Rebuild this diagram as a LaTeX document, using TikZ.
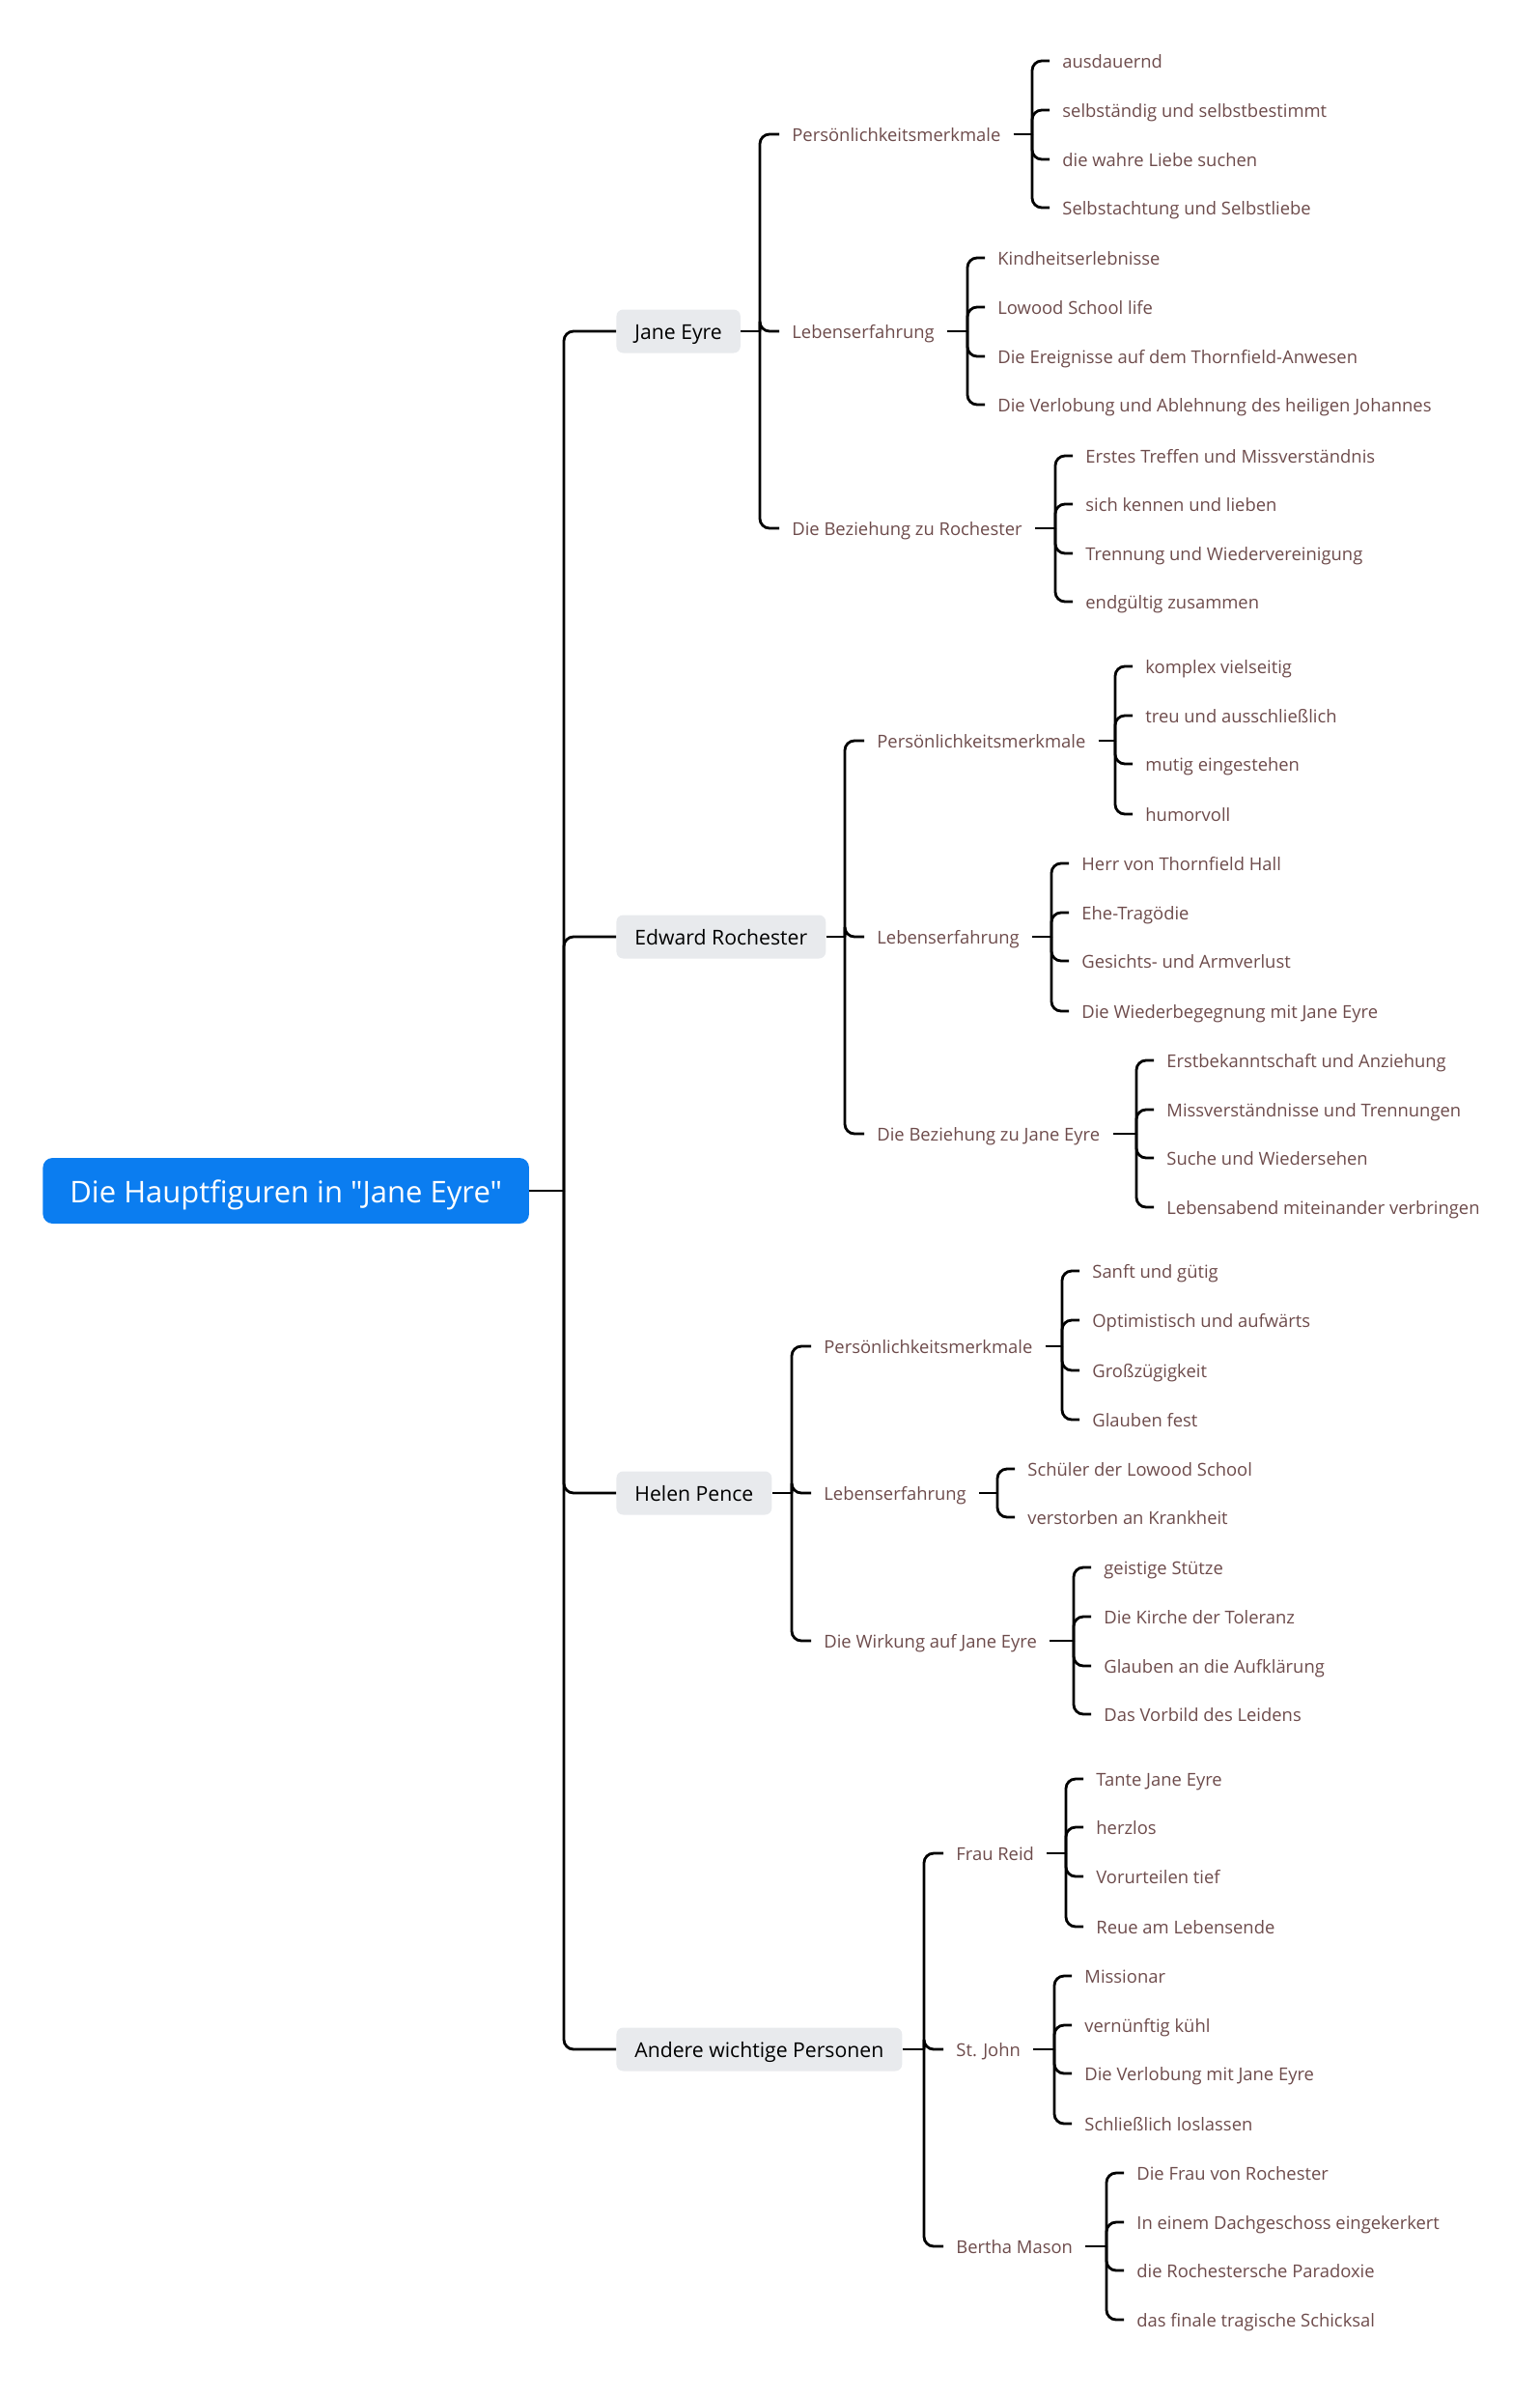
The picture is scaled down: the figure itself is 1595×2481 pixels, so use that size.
\documentclass[tikz,border=0pt]{standalone}
\usepackage{fontspec}
\setmainfont{Open Sans}[Ligatures=TeXOff]
\usepackage{xcolor}
\usepackage{tikz}
\usetikzlibrary{positioning,calc}

\definecolor{rootblue}{HTML}{0B7DF0}
\definecolor{topicgrey}{HTML}{E8EAED}
\definecolor{leafbrown}{HTML}{6D4B4B}

\tikzset{
  rootbox/.style={fill=rootblue,text=white,rounded corners=5pt,anchor=west,
    inner xsep=14pt,minimum height=34pt,text height=13pt,text depth=1pt,
    font=\fontsize{15.5pt}{18pt}\selectfont},
  topic/.style={fill=topicgrey,text=black,rounded corners=3.5pt,anchor=west,
    inner xsep=9.5pt,minimum height=22.5pt,text height=8.5pt,text depth=0.5pt,
    font=\fontsize{10.6pt}{13pt}\selectfont},
  sub/.style={text=leafbrown,anchor=west,inner xsep=6.5pt,inner ysep=2pt,
    text height=7.9pt,text depth=0.9pt,font=\fontsize{9.2pt}{11pt}\selectfont},
  leaf/.style={sub},
  link/.style={line width=1.4pt,rounded corners=5pt}
}

\begin{document}
\begin{tikzpicture}[x=0.5pt,y=-0.5pt]
  \useasboundingbox (0,0) rectangle (1595,2481);

  % root and trunk
  \node[rootbox] (root) at (44,1233) {Die Hauptfiguren in "Jane Eyre"};
  \coordinate (trunk) at (584,1233);
  \draw[link] (root.east) -- (trunk);

  % level 1
  \node[topic] (je) at (638,343)  {Jane Eyre};
  \node[topic] (er) at (638,970)  {Edward Rochester};
  \node[topic] (hp) at (638,1546) {Helen Pence};
  \node[topic] (aw) at (638,2122) {Andere wichtige Personen};
  \draw[link] (trunk) |- (je.west);
  \draw[link] (trunk) |- (er.west);
  \draw[link] (trunk) |- (hp.west);
  \draw[link] (trunk) |- (aw.west);

  % ---------- Jane Eyre ----------
  \coordinate (jeb) at (787,343);
  \node[sub] (jeP) at (807,139) {Persönlichkeitsmerkmale};
  \node[sub] (jeL) at (807,343) {Lebenserfahrung};
  \node[sub] (jeB) at (807,547) {Die Beziehung zu Rochester};
  \draw[link] (je.east) -- (jeb);
  \draw[link] (jeb) |- (jeP.west);
  \draw[link] (jeb) |- (jeL.west);
  \draw[link] (jeb) |- (jeB.west);

  \coordinate (jePb) at (1069,139);
  \node[leaf] (jeP1) at (1087,63)  {ausdauernd};
  \node[leaf] (jeP2) at (1087,114) {selbständig und selbstbestimmt};
  \node[leaf] (jeP3) at (1087,165) {die wahre Liebe suchen};
  \node[leaf] (jeP4) at (1087,215) {Selbstachtung und Selbstliebe};
  \draw[link] (jeP.east) -- (jePb);
  \draw[link] (jePb) |- (jeP1.west);
  \draw[link] (jePb) |- (jeP2.west);
  \draw[link] (jePb) |- (jeP3.west);
  \draw[link] (jePb) |- (jeP4.west);

  \coordinate (jeLb) at (1002,343);
  \node[leaf] (jeL1) at (1020,267) {Kindheitserlebnisse};
  \node[leaf] (jeL2) at (1020,318) {Lowood School life};
  \node[leaf] (jeL3) at (1020,369) {Die Ereignisse auf dem Thornfield-Anwesen};
  \node[leaf] (jeL4) at (1020,419) {Die Verlobung und Ablehnung des heiligen Johannes};
  \draw[link] (jeL.east) -- (jeLb);
  \draw[link] (jeLb) |- (jeL1.west);
  \draw[link] (jeLb) |- (jeL2.west);
  \draw[link] (jeLb) |- (jeL3.west);
  \draw[link] (jeLb) |- (jeL4.west);

  \coordinate (jeBb) at (1093,547);
  \node[leaf] (jeB1) at (1111,472) {Erstes Treffen und Missverständnis};
  \node[leaf] (jeB2) at (1111,522) {sich kennen und lieben};
  \node[leaf] (jeB3) at (1111,573) {Trennung und Wiedervereinigung};
  \node[leaf] (jeB4) at (1111,623) {endgültig zusammen};
  \draw[link] (jeB.east) -- (jeBb);
  \draw[link] (jeBb) |- (jeB1.west);
  \draw[link] (jeBb) |- (jeB2.west);
  \draw[link] (jeBb) |- (jeB3.west);
  \draw[link] (jeBb) |- (jeB4.west);

  % ---------- Edward Rochester ----------
  \coordinate (erb) at (875,970);
  \node[sub] (erP) at (895,767)  {Persönlichkeitsmerkmale};
  \node[sub] (erL) at (895,970)  {Lebenserfahrung};
  \node[sub] (erB) at (895,1174) {Die Beziehung zu Jane Eyre};
  \draw[link] (er.east) -- (erb);
  \draw[link] (erb) |- (erP.west);
  \draw[link] (erb) |- (erL.west);
  \draw[link] (erb) |- (erB.west);

  \coordinate (erPb) at (1155,767);
  \node[leaf] (erP1) at (1173,690) {komplex vielseitig};
  \node[leaf] (erP2) at (1173,741) {treu und ausschließlich};
  \node[leaf] (erP3) at (1173,791) {mutig eingestehen};
  \node[leaf] (erP4) at (1173,843) {humorvoll};
  \draw[link] (erP.east) -- (erPb);
  \draw[link] (erPb) |- (erP1.west);
  \draw[link] (erPb) |- (erP2.west);
  \draw[link] (erPb) |- (erP3.west);
  \draw[link] (erPb) |- (erP4.west);

  \coordinate (erLb) at (1089,970);
  \node[leaf] (erL1) at (1107,894)  {Herr von Thornfield Hall};
  \node[leaf] (erL2) at (1107,945)  {Ehe-Tragödie};
  \node[leaf] (erL3) at (1107,995)  {Gesichts- und Armverlust};
  \node[leaf] (erL4) at (1107,1047) {Die Wiederbegegnung mit Jane Eyre};
  \draw[link] (erL.east) -- (erLb);
  \draw[link] (erLb) |- (erL1.west);
  \draw[link] (erLb) |- (erL2.west);
  \draw[link] (erLb) |- (erL3.west);
  \draw[link] (erLb) |- (erL4.west);

  \coordinate (erBb) at (1177,1174);
  \node[leaf] (erB1) at (1195,1098) {Erstbekanntschaft und Anziehung};
  \node[leaf] (erB2) at (1195,1149) {Missverständnisse und Trennungen};
  \node[leaf] (erB3) at (1195,1199) {Suche und Wiedersehen};
  \node[leaf] (erB4) at (1195,1250) {Lebensabend miteinander verbringen};
  \draw[link] (erB.east) -- (erBb);
  \draw[link] (erBb) |- (erB1.west);
  \draw[link] (erBb) |- (erB2.west);
  \draw[link] (erBb) |- (erB3.west);
  \draw[link] (erBb) |- (erB4.west);

  % ---------- Helen Pence ----------
  \coordinate (hpb) at (820,1546);
  \node[sub] (hpP) at (840,1394) {Persönlichkeitsmerkmale};
  \node[sub] (hpL) at (840,1546) {Lebenserfahrung};
  \node[sub] (hpW) at (840,1699) {Die Wirkung auf Jane Eyre};
  \draw[link] (hp.east) -- (hpb);
  \draw[link] (hpb) |- (hpP.west);
  \draw[link] (hpb) |- (hpL.west);
  \draw[link] (hpb) |- (hpW.west);

  \coordinate (hpPb) at (1100,1394);
  \node[leaf] (hpP1) at (1118,1316) {Sanft und gütig};
  \node[leaf] (hpP2) at (1118,1367) {Optimistisch und aufwärts};
  \node[leaf] (hpP3) at (1118,1419) {Großzügigkeit};
  \node[leaf] (hpP4) at (1118,1470) {Glauben fest};
  \draw[link] (hpP.east) -- (hpPb);
  \draw[link] (hpPb) |- (hpP1.west);
  \draw[link] (hpPb) |- (hpP2.west);
  \draw[link] (hpPb) |- (hpP3.west);
  \draw[link] (hpPb) |- (hpP4.west);

  \coordinate (hpLb) at (1033,1546);
  \node[leaf] (hpL1) at (1051,1521) {Schüler der Lowood School};
  \node[leaf] (hpL2) at (1051,1571) {verstorben an Krankheit};
  \draw[link] (hpL.east) -- (hpLb);
  \draw[link] (hpLb) |- (hpL1.west);
  \draw[link] (hpLb) |- (hpL2.west);

  \coordinate (hpWb) at (1112,1699);
  \node[leaf] (hpW1) at (1130,1623) {geistige Stütze};
  \node[leaf] (hpW2) at (1130,1674) {Die Kirche der Toleranz};
  \node[leaf] (hpW3) at (1130,1725) {Glauben an die Aufklärung};
  \node[leaf] (hpW4) at (1130,1775) {Das Vorbild des Leidens};
  \draw[link] (hpW.east) -- (hpWb);
  \draw[link] (hpWb) |- (hpW1.west);
  \draw[link] (hpWb) |- (hpW2.west);
  \draw[link] (hpWb) |- (hpW3.west);
  \draw[link] (hpWb) |- (hpW4.west);

  % ---------- Andere wichtige Personen ----------
  \coordinate (awb) at (957,2122);
  \node[sub] (awR) at (977,1919) {Frau Reid};
  \node[sub] (awJ) at (977,2122) {St. John};
  \node[sub] (awM) at (977,2326) {Bertha Mason};
  \draw[link] (aw.east) -- (awb);
  \draw[link] (awb) |- (awR.west);
  \draw[link] (awb) |- (awJ.west);
  \draw[link] (awb) |- (awM.west);

  \coordinate (awRb) at (1104,1919);
  \node[leaf] (awR1) at (1122,1842) {Tante Jane Eyre};
  \node[leaf] (awR2) at (1122,1892) {herzlos};
  \node[leaf] (awR3) at (1122,1943) {Vorurteilen tief};
  \node[leaf] (awR4) at (1122,1995) {Reue am Lebensende};
  \draw[link] (awR.east) -- (awRb);
  \draw[link] (awRb) |- (awR1.west);
  \draw[link] (awRb) |- (awR2.west);
  \draw[link] (awRb) |- (awR3.west);
  \draw[link] (awRb) |- (awR4.west);

  \coordinate (awJb) at (1092,2122);
  \node[leaf] (awJ1) at (1110,2046) {Missionar};
  \node[leaf] (awJ2) at (1110,2097) {vernünftig kühl};
  \node[leaf] (awJ3) at (1110,2147) {Die Verlobung mit Jane Eyre};
  \node[leaf] (awJ4) at (1110,2199) {Schließlich loslassen};
  \draw[link] (awJ.east) -- (awJb);
  \draw[link] (awJb) |- (awJ1.west);
  \draw[link] (awJb) |- (awJ2.west);
  \draw[link] (awJb) |- (awJ3.west);
  \draw[link] (awJb) |- (awJ4.west);

  \coordinate (awMb) at (1146,2326);
  \node[leaf] (awM1) at (1164,2250) {Die Frau von Rochester};
  \node[leaf] (awM2) at (1164,2301) {In einem Dachgeschoss eingekerkert};
  \node[leaf] (awM3) at (1164,2351) {die Rochestersche Paradoxie};
  \node[leaf] (awM4) at (1164,2402) {das finale tragische Schicksal};
  \draw[link] (awM.east) -- (awMb);
  \draw[link] (awMb) |- (awM1.west);
  \draw[link] (awMb) |- (awM2.west);
  \draw[link] (awMb) |- (awM3.west);
  \draw[link] (awMb) |- (awM4.west);
\end{tikzpicture}
\end{document}
